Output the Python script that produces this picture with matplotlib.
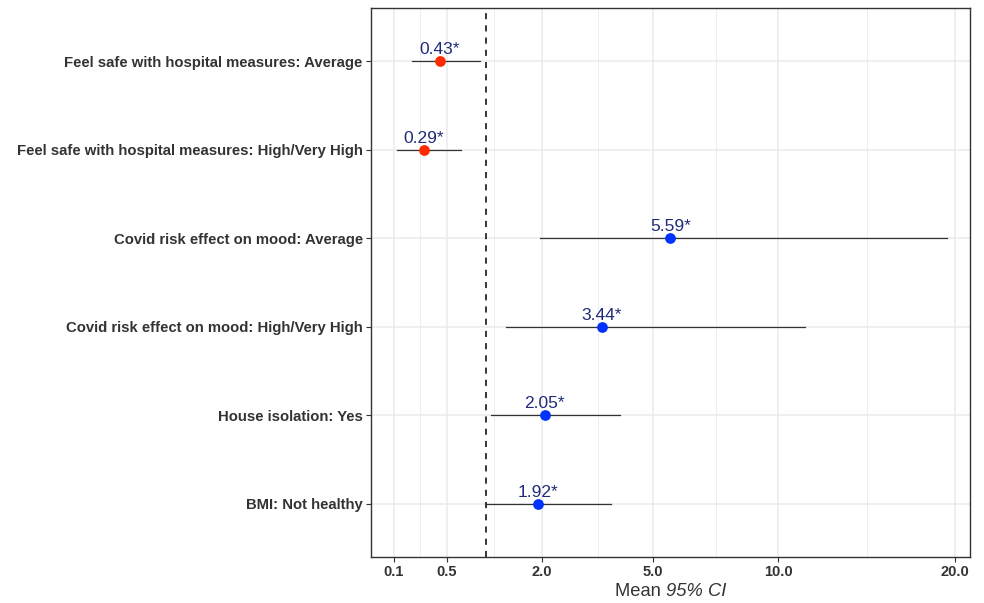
import matplotlib
matplotlib.use("Agg")
import matplotlib.pyplot as plt
import numpy as np

plt.rcParams['font.family'] = ['Liberation Sans', 'DejaVu Sans']

# data (top to bottom)
labels = ["Feel safe with hospital measures: Average",
          "Feel safe with hospital measures: High/Very High",
          "Covid risk effect on mood: Average",
          "Covid risk effect on mood: High/Very High",
          "House isolation: Yes",
          "BMI: Not healthy"]
estimate = [0.43, 0.29, 5.59, 3.44, 2.05, 1.92]
ci_low = [0.20, 0.114, 1.95, 1.31, 1.07, 0.99]
ci_high = [0.91, 0.66, 19.5, 11.3, 3.96, 3.70]
xticks = [0.1, 0.5, 2.0, 5.0, 10.0, 20.0]

grey20 = "#333333"

def fwd(x):
    return np.sqrt(np.clip(x, 0, None))

def inv(x):
    return np.asarray(x) ** 2

fig = plt.figure(figsize=(9.84, 6.03), dpi=100)
ax = fig.add_axes([371/984, 1-557/603, (970-371)/984, (557-8)/603])
ax.set_xscale('function', functions=(fwd, inv))

ypos = np.arange(len(labels))[::-1] + 1

# grid: major at ticks, minor halfway in sqrt space
s = np.sqrt(xticks)
minor = ((s[:-1] + s[1:]) / 2) ** 2
for v in xticks:
    ax.axvline(v, color="#ebebeb", lw=1.1, zorder=0)
for v in minor:
    ax.axvline(v, color="#ebebeb", lw=0.6, zorder=0)
for y in ypos:
    ax.axhline(y, color="#ebebeb", lw=1.1, zorder=0)

ax.axvline(1.0, color="black", lw=1.1, ls=(0, (4, 4)), zorder=1)

for y, est, lo, hi in zip(ypos, estimate, ci_low, ci_high):
    ax.plot([lo, hi], [y, y], color=grey20, lw=0.9, zorder=2)
    col = "#ff2a00" if est < 1 else "#0033ff"
    ax.scatter([est], [y], s=60, color=col, zorder=3, linewidths=0)
    ax.text(est, y + 0.045, f"{est:.2f}*", color="#1f2a7a", fontsize=12.5,
            ha="center", va="bottom", zorder=4)

ax.set_xlim(0.146**2, 4.583**2)
ax.set_ylim(0.4, 6.6)
ax.set_yticks(ypos)
ax.set_yticklabels(labels, fontweight="bold", color=grey20, fontsize=10.7)
ax.set_xticks(xticks)
ax.set_xticklabels([f"{v:.1f}" for v in xticks], fontweight="bold",
                   color=grey20, fontsize=10.5)
ax.minorticks_off()
ax.tick_params(axis="both", length=3.5, width=0.8, color=grey20, pad=2.5)

for sp in ax.spines.values():
    sp.set_color(grey20)
    sp.set_linewidth(1.0)

# x title: "Mean " upright, "95% CI" italic
t1 = fig.text(0, 0, "Mean ", fontsize=13.2, color=grey20, va="center")
t2 = fig.text(0, 0, "95% CI", fontsize=13.2, color=grey20, va="center",
              style="italic")
fig.canvas.draw()
r = fig.canvas.get_renderer()
w1 = t1.get_window_extent(r).width
w2 = t2.get_window_extent(r).width
x0 = (371 + 970) / 2 - (w1 + w2) / 2
t1.set_position((x0 / 984, 1 - 592/603))
t2.set_position(((x0 + w1) / 984, 1 - 592/603))

fig.savefig("out.png", dpi=100)
